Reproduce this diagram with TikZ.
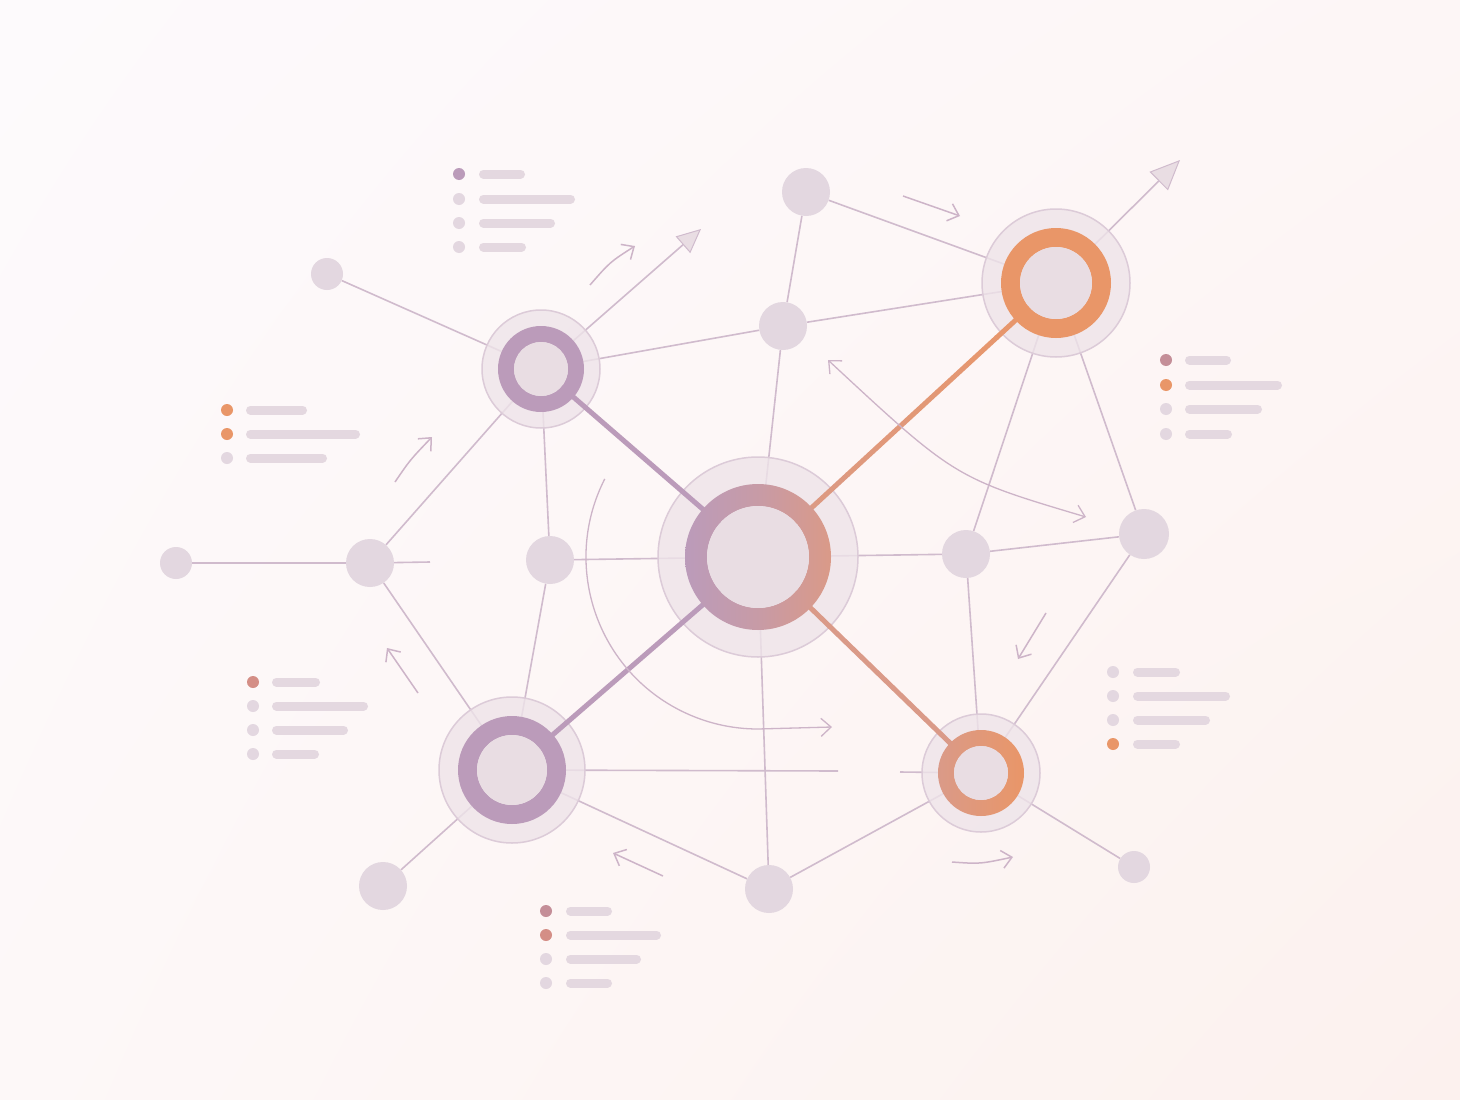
\documentclass[tikz,border=0pt]{standalone}
\usetikzlibrary{arrows.meta,calc,shadings}
\pgfdeclarelayer{bg}
\pgfdeclarelayer{edges}
\pgfsetlayers{bg,edges,main}
\definecolor{bgTL}{HTML}{FDFAFC}
\definecolor{bgTR}{HTML}{FDF6F6}
\definecolor{bgBL}{HTML}{FDF8F8}
\definecolor{bgBR}{HTML}{FCF1EE}
\definecolor{edgec}{HTML}{D0BBCD}
\definecolor{purp}{HTML}{BB9BBA}
\definecolor{orng}{HTML}{E99668}
\definecolor{salm}{HTML}{DA9A88}
\definecolor{mauve}{HTML}{C48E98}
\definecolor{salm2}{HTML}{D48E86}
\definecolor{dotc}{HTML}{E3D7E0}
\definecolor{haloc}{HTML}{EEE4E9}
\definecolor{haloline}{HTML}{DCCBD8}
\definecolor{innerc}{HTML}{E9DDE3}
\definecolor{barc}{HTML}{E4D8E0}
\definecolor{arrowc}{HTML}{CDB4C8}
\newcommand\lrow[5]{\fill[#3] (#1,#2) circle (6);
  \draw[barline] (#4,#2) -- (#5,#2);}
\begin{document}
\begin{tikzpicture}[x=1pt,y=-1pt,
  halonode/.style={circle,inner sep=0pt,fill=haloc,fill opacity=0.8,draw=haloline,line width=1.5pt},
  dotnode/.style={circle,inner sep=0pt,fill=dotc},
  thin/.style={draw=edgec,line width=1.6pt},
  thick/.style={line width=5pt},
  barline/.style={draw=barc,line width=9pt,line cap=round},
  sketch/.style={draw=arrowc,line width=1.5pt,-{Straight Barb[length=10pt,width=18pt,line width=1.5pt]}},
  bighead/.style={draw=edgec,line width=1.6pt,-{Triangle[length=30pt,width=26pt,fill=innerc,line width=1pt]}},
]
\begin{pgfonlayer}{bg}
\shade[upper left=bgTL,upper right=bgTR,lower left=bgBL,lower right=bgBR] (0,0) rectangle (1460,1100);
\end{pgfonlayer}
\useasboundingbox (0,0) rectangle (1460,1100);

% hub halos
\node[halonode,minimum size=200pt] (C) at (758,557) {};
\node[halonode,minimum size=118pt] (A) at (541,369) {};
\node[halonode,minimum size=148pt] (B) at (1056,283) {};
\node[halonode,minimum size=146pt] (D) at (512,770) {};
\node[halonode,minimum size=118pt] (E) at (981,773) {};

% small nodes
\node[dotnode,minimum size=32pt] (n1) at (327,274) {};
\node[dotnode,minimum size=48pt] (n2) at (806,192) {};
\node[dotnode,minimum size=48pt] (n3) at (783,326) {};
\node[dotnode,minimum size=32pt] (n4) at (176,563) {};
\node[dotnode,minimum size=48pt] (n5) at (370,563) {};
\node[dotnode,minimum size=48pt] (n6) at (550,560) {};
\node[dotnode,minimum size=48pt] (n7) at (966,554) {};
\node[dotnode,minimum size=50pt] (n8) at (1144,534) {};
\node[dotnode,minimum size=48pt] (n9) at (383,886) {};
\node[dotnode,minimum size=48pt] (n10) at (769,889) {};
\node[dotnode,minimum size=32pt] (n11) at (1134,867) {};

\coordinate (s5) at (430,562);
\coordinate (sD) at (838,771);
\coordinate (sE) at (900,772);
\coordinate (tA) at (701,229);
\coordinate (tB) at (1180,160);

% thin connectors
\begin{pgfonlayer}{edges}
\draw[thin] (n1) -- (A.center);
\draw[thin] (A.center) -- (n3);
\draw[thin] (n3) -- (B.center);
\draw[thin] (n2) -- (B.center);
\draw[thin] (n2) -- (n3);
\draw[thin] (n3) -- (C.center);
\draw[thin] (A.center) -- (n5);
\draw[thin] (A.center) -- (n6);
\draw[thin] (n4) -- (n5);
\draw[thin] (n5) -- (s5);
\draw[thin] (n6) -- (C.center);
\draw[thin] (n5) -- (D.center);
\draw[thin] (n6) -- (D.center);
\draw[thin] (D.center) -- (sD);
\draw[thin] (sE) -- (E.center);
\draw[thin] (C.center) -- (n10);
\draw[thin] (D.center) -- (n10);
\draw[thin] (D.center) -- (n9);
\draw[thin] (n10) -- (E.center);
\draw[thin] (E.center) -- (n11);
\draw[thin] (C.center) -- (n7);
\draw[thin] (n7) -- (n8);
\draw[thin] (n7) -- (B.center);
\draw[thin] (n8) -- (B.center);
\draw[thin] (n7) -- (E.center);
\draw[thin] (n8) -- (E.center);
\draw[bighead] (B.center) -- (tB);
\draw[draw=edgec,line width=1.6pt,-{Triangle[length=24pt,width=22pt,fill=innerc,line width=1pt]}] (A.center) -- (tA);
\end{pgfonlayer}

% thick connectors
\draw[thick,purp] (A.center) -- (C.center);
\draw[thick,purp] (D.center) -- (C.center);
\draw[thick,salm] (C.center) -- (E.center);
\foreach \i in {0,...,9}{
  \pgfmathsetmacro\p{\i*11}
  \draw[thick,draw=orng!\p!salm] ($(C.center)!\i/10!(B.center)$) -- ($(C.center)!\i/10+0.101!(B.center)$);
}

% rings
\shade[left color=purp,right color=salm,middle color=purp!60!salm,even odd rule] (C.center) circle (73) circle (51);
\fill[innerc] (C.center) circle (51);
\fill[purp,even odd rule] (A.center) circle (43) circle (27);
\fill[innerc] (A.center) circle (27);
\fill[orng,even odd rule] (B.center) circle (55) circle (36);
\fill[innerc] (B.center) circle (36);
\fill[purp,even odd rule] (D.center) circle (54) circle (35);
\fill[innerc] (D.center) circle (35);
\shade[left color=salm,right color=orng,even odd rule] (E.center) circle (43) circle (27);
\fill[innerc] (E.center) circle (27);

% sketch arrows
\draw[sketch] (590,285) .. controls (610,262) .. (635,246);
\draw[sketch] (903,196) -- (960,216);
\draw[sketch] (395,482) .. controls (410,460) .. (432,437);
\draw[sketch] (418,693) -- (387,648);
\draw[sketch] (663,876) -- (613,853);
\draw[sketch] (952,862) .. controls (980,864) .. (1013,857);
\draw[sketch] (1046,613) -- (1018,659);
\draw[draw=arrowc,line width=1.3pt,{Straight Barb[length=10pt,width=18pt,line width=1.3pt]}-{Straight Barb[length=10pt,width=18pt,line width=1.3pt]}] (828,360) .. controls (955,478) .. (1086,517);
\draw[draw=arrowc,line width=1.3pt,-{Straight Barb[length=10pt,width=18pt,line width=1.3pt]}] (C.center) ++(207:172) arc[start angle=207,end angle=90,radius=172] -- (832,727);

% legends
\lrow{459}{174}{purp}{483.5}{520.5}
\lrow{459}{199}{dotc}{483.5}{570.5}
\lrow{459}{223}{dotc}{483.5}{550.5}
\lrow{459}{247}{dotc}{483.5}{521.5}

\lrow{227}{410}{orng}{250.5}{302.5}
\lrow{227}{434}{orng}{250.5}{355.5}
\lrow{227}{458}{dotc}{250.5}{322.5}

\lrow{1166}{360}{mauve}{1189.5}{1226.5}
\lrow{1166}{385}{orng}{1189.5}{1277.5}
\lrow{1166}{409}{dotc}{1189.5}{1257.5}
\lrow{1166}{434}{dotc}{1189.5}{1227.5}

\lrow{253}{682}{salm2}{276.5}{315.5}
\lrow{253}{706}{dotc}{276.5}{363.5}
\lrow{253}{730}{dotc}{276.5}{343.5}
\lrow{253}{754}{dotc}{276.5}{314.5}

\lrow{1113}{672}{dotc}{1137.5}{1175.5}
\lrow{1113}{696}{dotc}{1137.5}{1225.5}
\lrow{1113}{720}{dotc}{1137.5}{1205.5}
\lrow{1113}{744}{orng}{1137.5}{1175.5}

\lrow{546}{911}{mauve}{570.5}{607.5}
\lrow{546}{935}{salm2}{570.5}{656.5}
\lrow{546}{959}{dotc}{570.5}{636.5}
\lrow{546}{983}{dotc}{570.5}{607.5}
\end{tikzpicture}
\end{document}
